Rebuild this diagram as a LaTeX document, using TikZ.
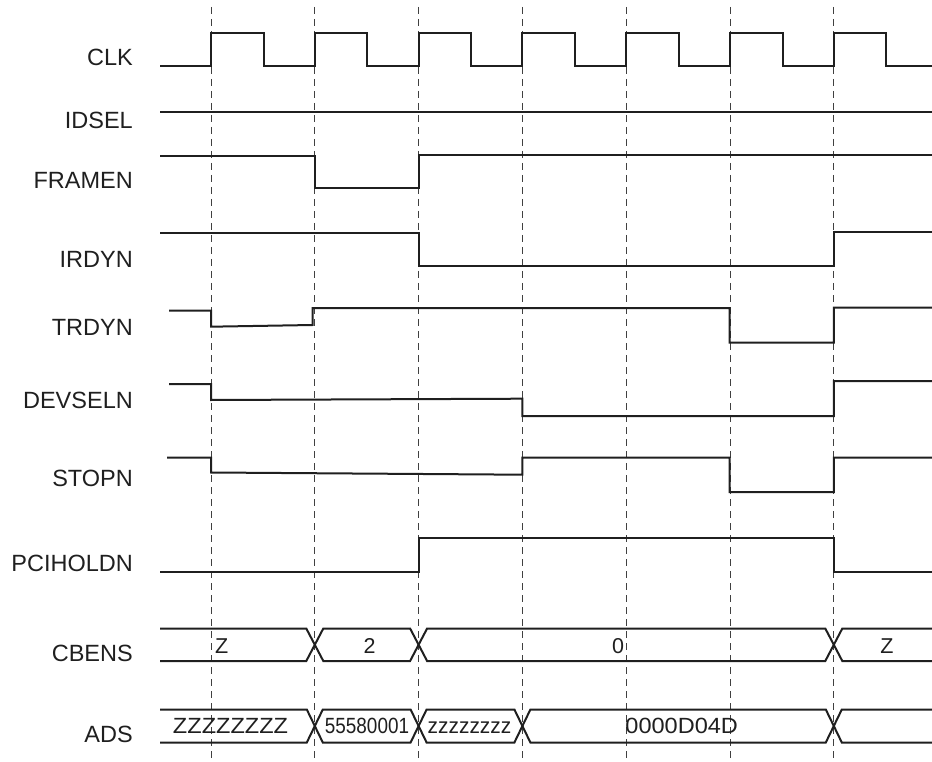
\documentclass[tikz,border=0pt]{standalone}
\usepackage{fontspec}
\setmainfont{Liberation Sans}
\begin{document}
\begin{tikzpicture}[x=1pt,y=-1pt,
  sig/.style={line width=2pt, line join=miter, draw=black!88},
  gridline/.style={line width=1pt, dash pattern=on 7pt off 5pt, draw=black!75},
  lbl/.style={anchor=base east, font=\fontsize{23.5}{25}\selectfont, inner sep=0pt, text=black!88},
  val/.style={anchor=base, font=\fontsize{21.5}{23}\selectfont, inner sep=0pt, text=black!88},
  adsval/.style={anchor=base, font=\fontsize{22}{24}\selectfont, inner sep=0pt, text=black!88}]
\useasboundingbox (0,0) rectangle (932,762);
% clock edge grid
\foreach \x in {211,314.8,418.6,522.4,626.2,730,833.8}
  \draw[gridline] (\x,7) -- (\x,762);
% labels
\node[lbl] (lclk) at (133,66) {CLK};
\node[lbl] (lidsel) at (133,128.3) {IDSEL};
\node[lbl] (lframen) at (133,188.3) {FRAMEN};
\node[lbl] (lirdyn) at (133,267.3) {IRDYN};
\node[lbl] (ltrdyn) at (133,335) {TRDYN};
\node[lbl] (ldevseln) at (133,408.3) {DEVSELN};
\node[lbl] (lstopn) at (133,486) {STOPN};
\node[lbl] (lpcihold) at (133,571.7) {PCIHOLDN};
\node[lbl] (lcbens) at (133,661.7) {CBENS};
\node[lbl] (lads) at (133,742.7) {ADS};
% CLK
\draw[sig] (160,66)
  \foreach \x in {211,314.8,418.6,522.4,626.2,730,833.8} {
    -- (\x,66) -- (\x,33) -- ({\x+52.5},33) -- ({\x+52.5},66) }
  -- (932,66);
% IDSEL
\draw[sig] (160,112) -- (932,112);
% FRAMEN
\draw[sig] (160,156.5) -- (314.8,156.5) -- (314.8,188.5) -- (418.6,188.5) -- (418.6,155) -- (932,155);
% IRDYN
\draw[sig] (160,233.5) -- (418.6,233.5) -- (418.6,266.5) -- (833.8,266.5) -- (833.8,232.5) -- (932,232.5);
% TRDYN
\draw[sig] (169,310.5) -- (211,310.5) -- (211,326.7) -- (312.5,325) -- (312.5,308) -- (729.7,308) -- (729.7,342.5) -- (833.8,342.5) -- (833.8,307.7) -- (932,307.7);
% DEVSELN
\draw[sig] (169,384) -- (211,384) -- (211,400) -- (522.4,398.7) -- (522.4,416) -- (833.8,416) -- (833.8,381) -- (932,381);
% STOPN
\draw[sig] (167,457.5) -- (211,457.5) -- (211,472.5) -- (522.4,474.7) -- (522.4,457.5) -- (729.7,457.5) -- (729.7,492) -- (833.8,492) -- (833.8,457.5) -- (932,457.5);
% PCIHOLDN
\draw[sig] (160,571.5) -- (418.6,571.5) -- (418.6,538) -- (833.8,538) -- (833.8,571.5) -- (932,571.5);
% CBENS bus
\draw[sig] (160,628.5) -- (306.3,628.5) -- (323.3,661) -- (410.1,661) -- (427.1,628.5) -- (825.3,628.5) -- (842.3,661) -- (932,661);
\draw[sig] (160,661) -- (306.3,661) -- (323.3,628.5) -- (410.1,628.5) -- (427.1,661) -- (825.3,661) -- (842.3,628.5) -- (932,628.5);
\node[val, anchor=base west] (cb1) at (215,653.3) {Z};
\node[val] (cb2) at (369.5,653.3) {2};
\node[val] (cb3) at (618,653.3) {0};
\node[val] (cb4) at (887,653.3) {Z};
% ADS bus
\draw[sig] (160,709.5) -- (306.8,709.5) -- (322.8,742.5) -- (410.6,742.5) -- (426.6,709.5) -- (514.4,709.5) -- (530.4,742.5) -- (825.8,742.5) -- (841.8,709.5) -- (932,709.5);
\draw[sig] (160,742.5) -- (306.8,742.5) -- (322.8,709.5) -- (410.6,709.5) -- (426.6,742.5) -- (514.4,742.5) -- (530.4,709.5) -- (825.8,709.5) -- (841.8,742.5) -- (932,742.5);
\node[adsval, xscale=1.07] (ad1) at (230.5,733.5) {ZZZZZZZZ};
\node[adsval, xscale=0.86] (ad2) at (367,733.5) {55580001};
\node[adsval, xscale=0.95] (ad3) at (469.5,733.5) {zzzzzzzz};
\node[adsval, xscale=1.07] (ad4) at (681.7,733.5) {0000D04D};
\end{tikzpicture}
\end{document}
